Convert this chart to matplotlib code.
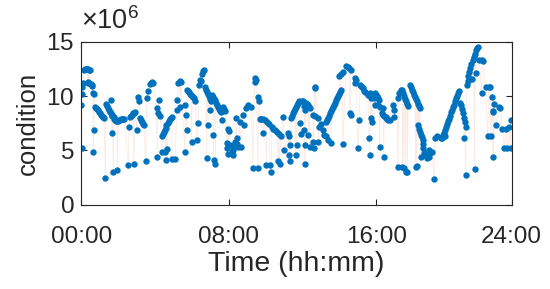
import numpy as np
import matplotlib.pyplot as plt
from matplotlib.ticker import ScalarFormatter

plt.rcParams['font.family'] = 'Liberation Sans'
plt.rcParams['mathtext.fontset'] = 'custom'
plt.rcParams['mathtext.rm'] = 'Liberation Sans'
plt.rcParams['mathtext.it'] = 'Liberation Sans:italic'

# (minute of day, condition in units of 1e6)
block_00_06 = [
    (0, 9.2), (1, 5.2), (2, 10.2), (3, 10.8), (5, 11.2), (9, 12.4), (12, 12.5), (15, 12.5),
    (18, 12.5), (20, 11.3), (21, 12.5), (23, 11.2), (24, 12.4), (26, 11.2), (28, 12.4),
    (30, 11.1), (33, 11.0), (36, 10.9), (38, 10.3), (39, 4.9), (40, 6.9), (42, 10.2),
    (45, 9.0), (48, 8.9), (51, 8.8), (54, 8.7), (58, 8.5), (61, 8.4), (64, 8.3), (67, 8.2),
    (71, 8.1), (74, 8.0), (78, 2.5), (80, 9.3), (83, 9.1), (86, 8.9), (89, 8.7), (92, 8.5),
    (95, 8.4), (97, 9.6), (98, 8.3), (99, 6.6), (101, 8.2), (104, 3.05), (105, 8.1),
    (107, 7.9), (110, 7.8), (113, 7.7), (116, 7.7), (117, 3.2), (120, 7.7), (123, 7.8),
    (126, 7.8), (129, 7.9), (133, 7.9), (136, 7.9), (139, 7.9), (153, 3.7), (155, 7.2),
    (158, 8.1), (162, 8.2), (165, 8.3), (168, 8.4), (171, 3.8), (172, 8.4), (175, 8.5),
    (180, 6.9), (185, 9.9), (187, 9.5), (191, 8.0), (194, 7.8), (197, 7.6), (200, 7.4),
    (204, 7.3), (209, 4.0), (213, 9.8), (218, 10.5), (223, 11.1), (226, 11.2), (230, 11.3),
    (233, 11.2), (245, 8.9), (247, 4.4), (248, 8.4), (253, 9.6), (256, 8.2), (261, 6.3),
    (262, 4.9), (264, 6.5), (268, 6.7), (271, 6.9), (273, 4.9), (274, 7.1), (275, 4.1),
    (277, 7.3), (280, 5.1), (281, 7.5), (284, 7.7), (287, 7.9), (291, 8.0), (294, 8.1),
    (295, 4.2), (305, 4.2), (310, 8.7), (312, 9.6), (316, 11.2), (320, 11.4), (321, 9.0),
    (324, 11.3), (337, 4.9), (338, 9.2), (340, 8.3), (343, 6.9), (344, 10.6), (347, 10.5),
    (350, 10.4), (353, 10.2), (357, 10.1), (359, 5.8),
]

block_06_12 = [
    (360, 10.0), (363, 9.9), (366, 9.8), (370, 9.5), (375, 6.0), (380, 7.5), (383, 11.0),
    (386, 11.5), (389, 11.4), (393, 12.0), (397, 12.3), (400, 12.4), (402, 10.8), (405, 10.6),
    (408, 4.3), (409, 10.4), (411, 10.2), (413, 7.3), (414, 10.0), (418, 9.7), (419, 8.7),
    (421, 9.5), (425, 10.1), (428, 9.9), (429, 6.4), (430, 4.1), (432, 9.7), (435, 9.6),
    (436, 3.8), (438, 9.4), (441, 9.2), (445, 9.0), (448, 8.8), (451, 8.6), (454, 8.5),
    (457, 7.8), (462, 9.0), (465, 8.8), (468, 8.6), (473, 5.7), (475, 5.2), (477, 7.0),
    (478, 4.7), (480, 6.8), (484, 5.5), (489, 4.9), (492, 4.6), (495, 5.0), (498, 5.5),
    (501, 5.8), (504, 8.0), (505, 6.1), (508, 5.6), (511, 5.3), (515, 7.6), (520, 5.35),
    (526, 8.3), (529, 7.3), (537, 8.9), (542, 9.2), (553, 9.0), (558, 3.4), (564, 11.7),
    (566, 11.3), (568, 11.5), (575, 3.4), (576, 9.9), (578, 9.5), (580, 7.9), (583, 7.9),
    (590, 7.9), (591, 6.6), (597, 7.8), (602, 3.7), (604, 7.6), (611, 7.4), (613, 3.7),
    (618, 3.05), (619, 7.2), (624, 7.0), (630, 6.9), (637, 6.7), (640, 4.0), (643, 6.5),
    (645, 3.8), (650, 6.3), (656, 8.1), (661, 5.05), (672, 6.6), (675, 4.6), (677, 6.3),
    (679, 4.0), (680, 5.5), (683, 8.0), (686, 8.2), (689, 8.4), (693, 8.6), (696, 8.8),
    (697, 4.6), (699, 9.0), (702, 5.5), (703, 9.2), (706, 9.4), (709, 9.5), (712, 7.5),
    (715, 6.5), (718, 9.5),
]

block_12_18 = [
    (722, 9.5), (725, 9.1), (726, 6.9), (727, 3.8), (728, 8.7), (729, 5.5), (731, 9.4),
    (735, 9.3), (738, 9.2), (739, 6.4), (741, 9.0), (743, 5.35), (745, 8.9), (754, 8.3),
    (755, 5.8), (756, 5.2), (759, 10.7), (760, 8.2), (762, 10.8), (770, 8.0), (771, 5.8),
    (775, 7.2), (780, 7.4), (786, 6.9), (791, 6.4), (796, 6.3), (797, 7.6), (798, 7.8),
    (802, 8.0), (803, 6.0), (805, 8.2), (808, 8.4), (811, 8.6), (813, 5.7), (815, 8.8),
    (818, 9.0), (821, 9.2), (825, 9.4), (828, 9.6), (831, 9.8), (834, 10.0), (838, 10.2),
    (840, 11.8), (841, 10.4), (844, 10.6), (845, 12.0), (850, 12.2), (851, 5.6), (862, 12.8),
    (867, 12.7), (872, 12.6), (873, 8.4), (876, 8.3), (877, 12.4), (889, 11.2), (892, 11.7),
    (895, 11.5), (900, 5.2), (905, 7.8), (906, 11.0), (910, 10.9), (913, 10.8), (916, 10.7),
    (919, 10.5), (922, 10.4), (932, 10.1), (937, 6.1), (938, 4.6), (941, 10.3), (942, 7.95),
    (944, 9.8), (946, 7.6), (954, 9.8), (955, 9.2), (957, 10.3), (960, 10.1), (963, 10.0),
    (965, 9.2), (967, 9.8), (970, 9.6), (971, 5.35), (972, 9.0), (980, 8.4), (981, 8.9),
    (983, 8.3), (984, 4.4), (986, 8.2), (990, 8.1), (993, 8.0), (996, 7.9), (999, 7.8),
    (1003, 7.8), (1013, 9.2), (1017, 8.7), (1019, 8.1), (1029, 9.8), (1030, 3.5),
    (1034, 10.25), (1039, 10.55), (1044, 10.6), (1045, 3.5), (1047, 10.3), (1050, 3.4),
    (1051, 10.0), (1054, 9.7), (1056, 3.05), (1057, 9.5), (1060, 9.3), (1061, 3.0),
    (1063, 9.1), (1070, 11.0), (1073, 10.8), (1076, 10.6),
]

block_18_24 = [
    (1080, 10.4), (1083, 10.1), (1086, 9.9), (1088, 3.5), (1089, 9.7), (1091, 3.6),
    (1093, 9.5), (1095, 7.3), (1096, 9.3), (1098, 7.0), (1099, 9.1), (1101, 6.7), (1102, 8.9),
    (1104, 6.4), (1105, 4.4), (1108, 6.2), (1111, 6.0), (1112, 5.6), (1113, 5.2), (1114, 4.8),
    (1120, 4.8), (1122, 4.6), (1124, 4.3), (1130, 5.0), (1132, 4.7), (1133, 4.4), (1141, 4.9),
    (1148, 2.35), (1150, 6.1), (1159, 6.3), (1170, 6.1), (1173, 6.1), (1177, 6.4), (1180, 6.6),
    (1182, 6.3), (1183, 6.9), (1187, 7.2), (1190, 7.4), (1193, 7.7), (1196, 7.9), (1200, 8.2),
    (1203, 8.5), (1206, 8.7), (1209, 9.0), (1213, 9.2), (1216, 9.5), (1219, 9.8), (1222, 10.0),
    (1226, 10.3), (1229, 10.5), (1233, 9.4), (1236, 9.2), (1239, 8.8), (1242, 8.4), (1245, 8.0),
    (1246, 6.1), (1248, 7.6), (1251, 2.75), (1252, 7.2), (1254, 11.0), (1257, 11.4),
    (1260, 11.8), (1263, 12.2), (1266, 12.6), (1269, 12.9), (1273, 11.6), (1274, 13.3),
    (1277, 13.6), (1280, 3.3), (1281, 13.9), (1284, 12.1), (1285, 14.2), (1288, 14.4),
    (1291, 14.5), (1295, 13.3), (1303, 10.25), (1305, 13.3), (1308, 13.2), (1316, 10.85),
    (1322, 6.3), (1327, 10.85), (1330, 10.8), (1333, 6.3), (1338, 9.9), (1339, 8.6),
    (1340, 4.4), (1341, 8.5), (1343, 9.3), (1348, 7.3), (1360, 9.0), (1364, 8.9), (1370, 7.0),
    (1376, 5.2), (1381, 7.0), (1386, 5.2), (1392, 7.2), (1397, 5.2), (1398, 7.8),
]

tick_minutes = [0, 480, 960, 1400]
tick_labels = ['00:00', '08:00', '16:00', '24:00']
y_ticks = [0, 5e6, 10e6, 15e6]

points = block_00_06 + block_06_12 + block_12_18 + block_18_24
minutes = np.array([p[0] for p in points], dtype=float)
condition = np.array([p[1] for p in points]) * 1e6

fig = plt.figure(figsize=(5.5, 2.89), dpi=100)
ax = fig.add_axes([0.148, 0.291, 0.782, 0.565])

# faint line joining consecutive samples, then the markers on top
ax.plot(minutes, condition, color='#D95319', alpha=0.12, lw=0.6, zorder=1)
ax.plot(minutes, condition, 'o', color='#0072BD', ms=4.6, mew=0, zorder=2)

ax.set_xlim(0, 1400)
ax.set_ylim(0, 15e6)
ax.set_xticks(tick_minutes)
ax.set_xticklabels(tick_labels)
ax.set_yticks(y_ticks)

# ticks shown in units of 1e6, exponent drawn as its own label above the axis
fmt = ScalarFormatter(useMathText=True)
fmt.set_powerlimits((6, 6))
ax.yaxis.set_major_formatter(fmt)
ax.yaxis.get_offset_text().set_visible(False)
ax.text(0.0, 1.04, r'$\times10^{6}$', transform=ax.transAxes, ha='left', va='bottom',
        fontsize=19.5, color='#262626')

ax.tick_params(direction='in', top=True, right=True, labelsize=17.5, length=4,
               width=0.8, colors='#262626')
ax.tick_params(axis='x', pad=15)
ax.tick_params(axis='y', pad=5)
for s in ax.spines.values():
    s.set_linewidth(0.8)
    s.set_color('#262626')

ax.set_xlabel('Time (hh:mm)', fontsize=20.5, color='#262626', labelpad=2)
ax.set_ylabel('condition', fontsize=18.5, color='#262626', labelpad=5)

fig.savefig('out.png', dpi=100)
